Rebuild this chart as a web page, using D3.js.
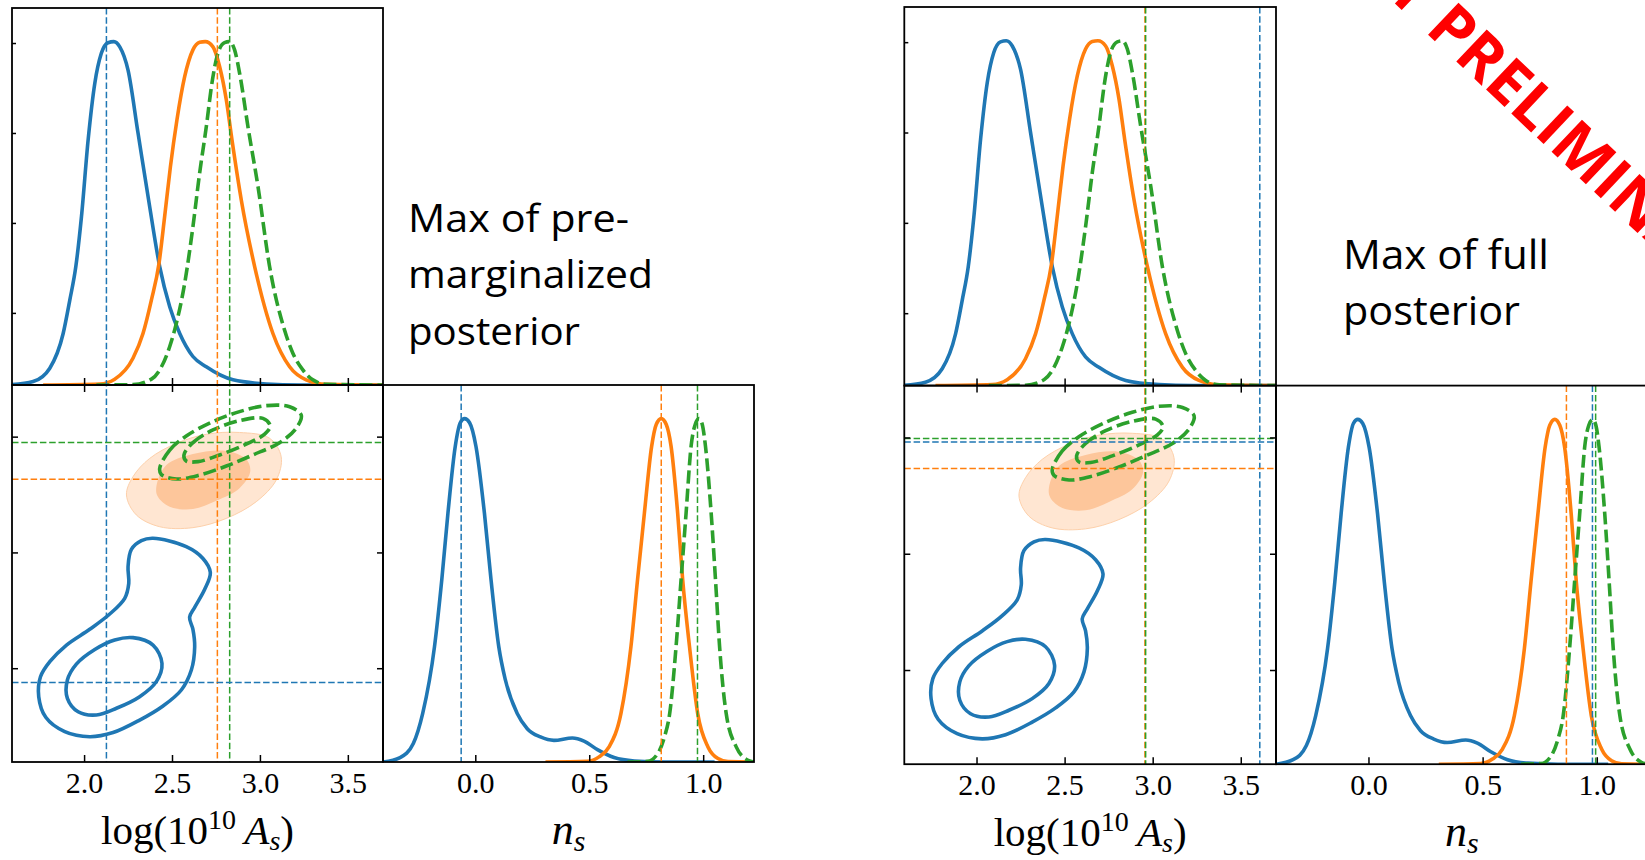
<!DOCTYPE html>
<html><head><meta charset="utf-8">
<script src="https://cdn.jsdelivr.net/npm/d3@7"></script>
<style>html,body{margin:0;padding:0;background:#fff;} svg{display:block;}</style>
</head><body>
<svg id="chart" width="1645" height="860"></svg>
<script>
// ---------- data ----------
const seriesColors = ["#1f77b4", "#ff7f0e", "#2ca02c"];
const asTicks = [2.0, 2.5, 3.0, 3.5];
const nsTicks = [0.0, 0.5, 1.0];
const densTicks = [0.21, 0.472, 0.734, 0.996];
const asRange = [1.59, 3.70];
const nsRange = [-0.405, 1.223];
const densRange = [0, 1.098];

// 1D marginal of log(10^10 A_s)
const asBlueX = [1.589,1.710,1.805,1.881,1.919,1.953,1.985,2.023,2.061,2.098,2.136,2.169,2.203,2.250,2.307,2.367,2.430,2.487,2.544,2.619,2.695,2.847,3.036,3.225,3.699];
const asBlueY = [0.001,0.010,0.049,0.150,0.248,0.345,0.490,0.714,0.879,0.966,0.997,1.000,0.985,0.917,0.733,0.539,0.345,0.228,0.150,0.083,0.053,0.015,0.003,0,0];
const asOrangeX = [1.767,2.089,2.174,2.278,2.335,2.383,2.426,2.458,2.491,2.528,2.572,2.619,2.657,2.689,2.733,2.771,2.809,2.841,2.894,2.970,3.074,3.169,3.263,3.377,3.699];
const asOrangeY = [0,0.003,0.017,0.078,0.150,0.248,0.354,0.490,0.636,0.772,0.898,0.976,0.998,1.000,0.985,0.927,0.830,0.714,0.539,0.345,0.150,0.053,0.015,0.002,0];
const asGreenX = [2.070,2.278,2.383,2.487,2.525,2.572,2.619,2.657,2.695,2.727,2.761,2.799,2.828,2.856,2.888,2.932,2.989,3.055,3.140,3.188,3.244,3.301,3.377,3.699];
const asGreenY = [0,0.001,0.017,0.112,0.180,0.296,0.461,0.617,0.752,0.879,0.966,0.997,1.000,0.976,0.898,0.752,0.578,0.345,0.160,0.092,0.044,0.015,0.002,0];

// 1D marginal of n_s
const nsBlueX = [-0.405,-0.330,-0.272,-0.231,-0.179,-0.147,-0.120,-0.088,-0.066,-0.047,-0.025,0.003,0.040,0.069,0.103,0.132,0.184,0.228,0.286,0.345,0.426,0.477,0.536,0.609,0.698,0.830,1.050];
const nsBlueY = [0,0.013,0.054,0.141,0.336,0.531,0.725,0.919,0.988,1.000,0.988,0.919,0.725,0.531,0.336,0.239,0.141,0.097,0.073,0.063,0.070,0.061,0.036,0.013,0.003,0,0];
const nsOrangeX = [0.308,0.492,0.543,0.587,0.639,0.683,0.712,0.742,0.774,0.794,0.816,0.838,0.859,0.888,0.910,0.940,0.976,1.021,1.065,1.109,1.223];
const nsOrangeY = [0,0.002,0.015,0.044,0.141,0.336,0.531,0.725,0.920,0.983,1.000,0.983,0.920,0.725,0.531,0.336,0.141,0.044,0.010,0.001,0];
const nsGreenX = [0.668,0.756,0.800,0.830,0.853,0.881,0.903,0.925,0.947,0.965,0.982,0.996,1.010,1.035,1.054,1.072,1.101,1.145,1.197,1.223];
const nsGreenY = [0,0.002,0.024,0.073,0.141,0.336,0.531,0.725,0.920,0.983,1.000,0.983,0.920,0.725,0.531,0.336,0.141,0.044,0.005,0];

// 2D contours [log(10^10 A_s), n_s]
const orangeOuter = [[2.241,0.748],[2.278,0.827],[2.373,0.906],[2.525,0.971],[2.695,1.010],[2.884,1.018],[3.055,0.993],[3.121,0.913],[3.093,0.813],[2.979,0.719],[2.809,0.647],[2.619,0.607],[2.430,0.611],[2.297,0.662]];
const orangeInner = [[2.411,0.784],[2.468,0.877],[2.619,0.925],[2.809,0.938],[2.922,0.902],[2.945,0.849],[2.884,0.777],[2.752,0.723],[2.619,0.687],[2.487,0.697],[2.419,0.741]];
const greenOuter = [[2.430,0.863],[2.487,0.942],[2.581,1.003],[2.733,1.065],[2.884,1.108],[3.036,1.134],[3.169,1.129],[3.235,1.093],[3.206,1.036],[3.112,0.974],[2.960,0.921],[2.809,0.873],[2.657,0.834],[2.525,0.817],[2.439,0.837]];
const greenInner = [[2.568,0.921],[2.619,0.974],[2.733,1.029],[2.884,1.069],[3.017,1.079],[3.059,1.046],[3.027,1.011],[2.922,0.968],[2.771,0.921],[2.648,0.892],[2.581,0.895]];
const blueOuter = [[2.392,0.561],[2.581,0.525],[2.676,0.474],[2.718,0.413],[2.686,0.341],[2.629,0.263],[2.600,0.220],[2.619,0.168],[2.629,0.093],[2.610,-0.008],[2.553,-0.094],[2.449,-0.163],[2.316,-0.224],[2.165,-0.278],[2.032,-0.296],[1.890,-0.274],[1.782,-0.212],[1.742,-0.123],[1.752,-0.037],[1.805,0.028],[1.900,0.100],[2.032,0.168],[2.146,0.234],[2.231,0.302],[2.254,0.366],[2.250,0.438],[2.269,0.513],[2.326,0.551]];
const blueInner = [[2.278,0.132],[2.392,0.100],[2.443,0.021],[2.411,-0.058],[2.316,-0.123],[2.184,-0.173],[2.070,-0.202],[1.966,-0.188],[1.905,-0.130],[1.905,-0.051],[1.956,0.018],[2.061,0.081],[2.174,0.122]];

// best-fit markers (blue, orange, green)
const preMargAs = [2.127, 2.758, 2.828];
const preMargNs = [-0.062, 0.816, 0.975];
const fullAs = [3.608, 2.956, 2.960];
const fullNs = [0.981, 0.867, 0.995];

const panelTextLeft = ["Max of pre-", "marginalized", "posterior"];
const panelTextRight = ["Max of full", "posterior"];
const watermark = ["VERY", "PRELIMINARY"];

// ---------- drawing ----------
const svg = d3.select("#chart");
const defs = svg.append("defs");
const LW = 3.6;
const DASH = "13,5";

const asSeries = [
  {x: asBlueX, y: asBlueY, c: 0, dash: null},
  {x: asOrangeX, y: asOrangeY, c: 1, dash: null},
  {x: asGreenX, y: asGreenY, c: 2, dash: DASH}
];
const nsSeries = [
  {x: nsBlueX, y: nsBlueY, c: 0, dash: null},
  {x: nsOrangeX, y: nsOrangeY, c: 1, dash: null},
  {x: nsGreenX, y: nsGreenY, c: 2, dash: DASH}
];

const figures = [
  {id: "L", x0: 12, y0: 8, colW: 371, rowH: 377, mA: preMargAs, mN: preMargNs,
   text: panelTextLeft, tx: 408, ty: 231.7, tsize: 38, twidths: [221, 245, 172], lh: 56.7},
  {id: "R", x0: 904.3, y0: 7, colW: 371.7, rowH: 378.6, mA: fullAs, mN: fullNs,
   text: panelTextRight, tx: 1343, ty: 269.3, tsize: 40, twidths: [206, 177], lh: 55.7}
];

const serif = "'Liberation Serif', 'Times New Roman', serif";

figures.forEach(f => {
  const g = svg.append("g");
  const r1b = f.y0 + f.rowH, r2b = f.y0 + 2 * f.rowH;
  const xA = d3.scaleLinear().domain(asRange).range([f.x0, f.x0 + f.colW]);
  const xN = d3.scaleLinear().domain(nsRange).range([f.x0 + f.colW, f.x0 + 2 * f.colW]);
  const yD1 = d3.scaleLinear().domain(densRange).range([r1b, f.y0]);
  const yD2 = d3.scaleLinear().domain(densRange).range([r2b, r1b]);
  const yN = d3.scaleLinear().domain(nsRange).range([r2b, r1b]);

  const mkClip = (id, x, y, w, h) => {
    defs.append("clipPath").attr("id", id).append("rect")
      .attr("x", x).attr("y", y).attr("width", w).attr("height", h);
    return `url(#${id})`;
  };
  const cTop = mkClip(f.id + "top", f.x0, f.y0, f.colW, f.rowH);
  const c2d = mkClip(f.id + "2d", f.x0, r1b, f.colW, f.rowH);
  const cNs = mkClip(f.id + "ns", f.x0 + f.colW, r1b, f.colW, f.rowH);

  // --- top 1D panel
  const gTop = g.append("g").attr("clip-path", cTop);
  asSeries.forEach(s => {
    const line = d3.line().x(i => xA(s.x[i])).y(i => yD1(s.y[i])).curve(d3.curveMonotoneX);
    gTop.append("path").attr("d", line(d3.range(s.x.length)))
      .attr("fill", "none").attr("stroke", seriesColors[s.c]).attr("stroke-width", LW)
      .attr("stroke-dasharray", s.dash).attr("stroke-linejoin", "round");
  });

  // --- 2D panel
  const g2 = g.append("g").attr("clip-path", c2d);
  const closed = d3.line().x(d => xA(d[0])).y(d => yN(d[1])).curve(d3.curveCatmullRomClosed.alpha(0.5));
  g2.append("path").attr("d", closed(orangeOuter)).attr("fill", "#ffe6d2")
    .attr("stroke", "#fdd0aa").attr("stroke-width", 1);
  g2.append("path").attr("d", closed(orangeInner)).attr("fill", "#fdc69b");
  [blueOuter, blueInner].forEach(c => g2.append("path").attr("d", closed(c))
    .attr("fill", "none").attr("stroke", seriesColors[0]).attr("stroke-width", LW));
  [greenOuter, greenInner].forEach(c => g2.append("path").attr("d", closed(c))
    .attr("fill", "none").attr("stroke", seriesColors[2]).attr("stroke-width", LW)
    .attr("stroke-dasharray", DASH));

  // --- n_s 1D panel
  const gNs = g.append("g").attr("clip-path", cNs);
  nsSeries.forEach(s => {
    const line = d3.line().x(i => xN(s.x[i])).y(i => yD2(s.y[i])).curve(d3.curveMonotoneX);
    gNs.append("path").attr("d", line(d3.range(s.x.length)))
      .attr("fill", "none").attr("stroke", seriesColors[s.c]).attr("stroke-width", LW)
      .attr("stroke-dasharray", s.dash).attr("stroke-linejoin", "round");
  });

  // --- markers
  const gm = g.append("g").attr("fill", "none").attr("stroke-width", 1.5).attr("stroke-dasharray", "6.5,2.8");
  f.mA.forEach((v, i) => {
    gm.append("line").attr("x1", xA(v)).attr("x2", xA(v)).attr("y1", f.y0).attr("y2", r2b)
      .attr("stroke", seriesColors[i]);
  });
  f.mN.forEach((v, i) => {
    gm.append("line").attr("x1", f.x0).attr("x2", f.x0 + f.colW).attr("y1", yN(v)).attr("y2", yN(v))
      .attr("stroke", seriesColors[i]);
    gm.append("line").attr("x1", xN(v)).attr("x2", xN(v)).attr("y1", r1b).attr("y2", r2b)
      .attr("stroke", seriesColors[i]).attr("clip-path", cNs);
  });

  // --- frames
  const gf = g.append("g").attr("fill", "none").attr("stroke", "#000").attr("stroke-width", 1.8);
  gf.append("rect").attr("x", f.x0).attr("y", f.y0).attr("width", f.colW).attr("height", f.rowH);
  gf.append("rect").attr("x", f.x0).attr("y", r1b).attr("width", f.colW).attr("height", f.rowH);
  gf.append("rect").attr("x", f.x0 + f.colW).attr("y", r1b).attr("width", f.colW).attr("height", f.rowH);

  // --- axes / ticks
  const styleAxis = sel => {
    sel.select(".domain").remove();
    sel.selectAll(".tick line").attr("stroke", "#000").attr("stroke-width", 1.5);
  };
  g.append("g").attr("transform", `translate(${f.x0},0)`)
    .call(d3.axisRight(yD1).tickValues(densTicks).tickSize(4).tickFormat(""))
    .call(styleAxis);
  g.append("g").attr("transform", `translate(0,${r1b})`)
    .call(d3.axisBottom(xA).tickValues(asTicks).tickSize(7).tickFormat("")).call(styleAxis);
  g.append("g").attr("transform", `translate(0,${r1b})`)
    .call(d3.axisTop(xA).tickValues(asTicks).tickSize(7).tickFormat("")).call(styleAxis);
  g.append("g").attr("transform", `translate(${f.x0},0)`)
    .call(d3.axisRight(yN).tickValues(nsTicks).tickSize(6).tickFormat("")).call(styleAxis);
  g.append("g").attr("transform", `translate(${f.x0 + f.colW},0)`)
    .call(d3.axisLeft(yN).tickValues(nsTicks).tickSize(6).tickFormat("")).call(styleAxis);

  const labelAxis = sel => {
    sel.selectAll(".tick text").attr("y", 30.5).attr("dy", null)
      .attr("font-family", serif).attr("font-size", 30).attr("fill", "#000");
  };
  g.append("g").attr("transform", `translate(0,${r2b})`)
    .call(d3.axisBottom(xA).tickValues(asTicks).tickSize(-7).tickFormat(d3.format(".1f")))
    .call(styleAxis).call(labelAxis);
  g.append("g").attr("transform", `translate(0,${r2b})`)
    .call(d3.axisBottom(xN).tickValues(nsTicks).tickSize(-7).tickFormat(d3.format(".1f")))
    .call(styleAxis).call(labelAxis);

  // --- axis titles
  const t1 = g.append("text").attr("x", (xA.range()[0] + xA.range()[1]) / 2).attr("y", r2b + 82)
    .attr("text-anchor", "middle").attr("font-family", serif).attr("font-size", 41).attr("fill", "#000");
  t1.append("tspan").text("log(10");
  t1.append("tspan").attr("dy", -15).attr("font-size", 28).text("10");
  t1.append("tspan").attr("dy", 15).attr("font-style", "italic").text("\u2009A");
  t1.append("tspan").attr("dy", 6).attr("font-size", 28).attr("font-style", "italic").text("s");
  t1.append("tspan").attr("dy", -6).text(")");

  const t2 = g.append("text").attr("x", (xN.range()[0] + xN.range()[1]) / 2).attr("y", r2b + 82)
    .attr("text-anchor", "middle").attr("font-family", serif).attr("font-size", 44).attr("fill", "#000");
  t2.append("tspan").attr("font-style", "italic").text("n");
  t2.append("tspan").attr("dy", 7).attr("font-size", 30).attr("font-style", "italic").text("s");

  // --- annotation text
  f.text.forEach((line, i) => {
    g.append("text").attr("x", f.tx).attr("y", f.ty + i * f.lh)
      .attr("font-family", "'Open Sans', 'Noto Sans', sans-serif").attr("font-size", f.tsize)
      .attr("textLength", f.twidths[i]).attr("lengthAdjust", "spacingAndGlyphs")
      .attr("fill", "#000").text(line);
  });
});

// watermark
const wm = svg.append("g").attr("transform", "translate(1424,31) rotate(43.4)")
  .attr("font-family", "'Open Sans', 'Noto Sans', sans-serif").attr("font-weight", 700)
  .attr("font-size", 62).attr("fill", "#ff0000");
wm.append("text").attr("x", -16).attr("text-anchor", "end").text(watermark[0]);
wm.append("text").attr("x", 0).text(watermark[1]);
</script>
</body></html>
